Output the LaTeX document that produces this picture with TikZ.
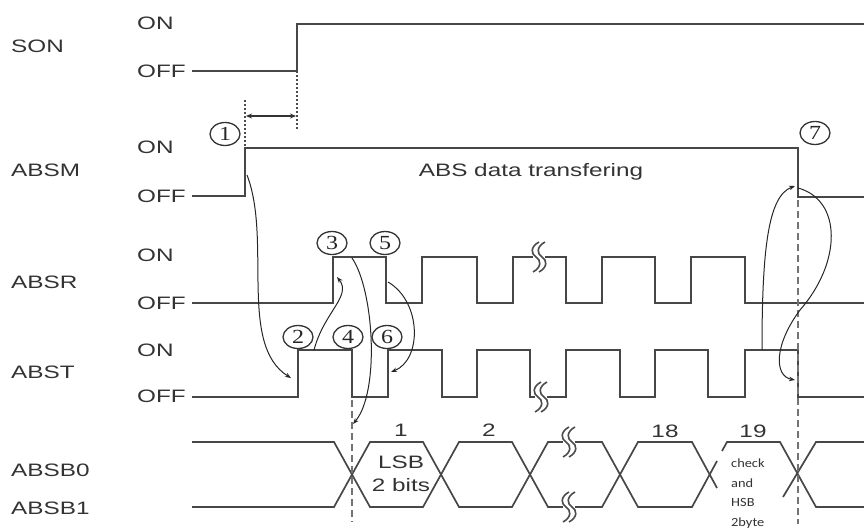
\documentclass[tikz,border=0pt]{standalone}
\usepackage{fontspec}
\setmainfont[FakeStretch=1.35]{Liberation Sans}
\newfontfamily\smallfont[FakeStretch=1.15]{Carlito}
\newfontfamily\circfont[FakeStretch=1.2]{Liberation Serif}
\usetikzlibrary{arrows.meta,shapes.geometric}
\tikzset{
  sig/.style={draw=black!72,line width=1.7pt,line join=miter},
  lbl/.style={anchor=west,text=black!80,font=\fontsize{18}{20}\selectfont,inner sep=0pt},
  ctr/.style={text=black!80,font=\fontsize{18}{20}\selectfont,inner sep=0pt},
  cur/.style={draw=black!85,line width=1pt,-{Stealth[length=6pt,width=4.5pt]}},
  num/.style={ellipse,draw=black!80,line width=1.3pt,minimum width=30pt,minimum height=23pt,inner sep=0pt,text=black!85,font=\circfont\fontsize{20}{20}\selectfont},
  dashv/.style={draw=black!55,line width=2pt,dash pattern=on 7pt off 4pt},
  dotv/.style={draw=black!70,line width=1.4pt,dash pattern=on 2pt off 2pt},
  squig/.pic={
    \fill[white] (-3,-5) rectangle (9,5);
    \draw[black!70,line width=1.6pt] (3,-15) .. controls (-6,-10) and (-5,-3) .. (0,0) .. controls (5,3) and (6,10) .. (-3,15);
    \draw[black!70,line width=1.6pt] (9,-15) .. controls (0,-10) and (1,-3) .. (6,0) .. controls (11,3) and (12,10) .. (3,15);
  }
}
\begin{document}
\begin{tikzpicture}[x=1pt,y=-1pt]
\useasboundingbox (0,0) rectangle (864,532);

% signal names
\node[lbl] (son) at (11,46) {SON};
\node[lbl] (absm) at (11,170) {ABSM};
\node[lbl] (absr) at (11,282) {ABSR};
\node[lbl] (abst) at (11,372) {ABST};
\node[lbl] (absb0) at (11,470) {ABSB0};
\node[lbl] (absb1) at (11,508) {ABSB1};

% ON / OFF
\node[lbl] (on1) at (137,23) {ON};
\node[lbl] (off1) at (137,71) {OFF};
\node[lbl] (on2) at (137,147) {ON};
\node[lbl] (off2) at (137,196) {OFF};
\node[lbl] (on3) at (137,255) {ON};
\node[lbl] (off3) at (137,303) {OFF};
\node[lbl] (on4) at (137,350) {ON};
\node[lbl] (off4) at (137,396) {OFF};

% SON
\draw[sig] (192,71) -- (297,71) -- (297,24) -- (864,24);
% ABSM
\draw[sig] (192,196) -- (245,196) -- (245,148) -- (798,148) -- (798,197) -- (864,197);
% ABSR
\draw[sig] (192,303) -- (333,303) -- (333,257) -- (386,257) -- (386,303) -- (422,303) -- (422,257) -- (477,257) -- (477,303) -- (513,303) -- (513,257) -- (566,257) -- (566,303) -- (602,303) -- (602,257) -- (655,257) -- (655,303) -- (691,303) -- (691,257) -- (745,257) -- (745,303) -- (864,303);
% ABST
\draw[sig] (192,397) -- (298,397) -- (298,350) -- (352,350) -- (352,397) -- (388,397) -- (388,350) -- (442,350) -- (442,397) -- (477,397) -- (477,350) -- (530,350) -- (530,397) -- (566,397) -- (566,350) -- (620,350) -- (620,397) -- (655,397) -- (655,350) -- (708,350) -- (708,397) -- (745,397) -- (745,350) -- (798,350) -- (798,397) -- (864,397);

% data bus
\draw[sig] (192,442) -- (334,442) -- (370,507) -- (423,507) -- (459,442) -- (512,442) -- (548,507) -- (602,507) -- (638,442) -- (692,442) -- (717,488);
\draw[sig] (192,507) -- (334,507) -- (370,442) -- (423,442) -- (459,507) -- (512,507) -- (548,442) -- (602,442) -- (638,507) -- (692,507) -- (717,461);
\draw[sig] (722,451) -- (727,442) -- (780,442) -- (816,507) -- (864,507);
\draw[sig] (783,497) -- (816,442) -- (864,442);

% squiggles
\pic at (536,257) {squig};
\pic at (538,397) {squig};
\pic at (566,442) {squig};
\pic at (566,507) {squig};

% dotted / dashed verticals
\draw[dotv] (297,71) -- (297,130);
\draw[dotv] (245,100) -- (245,148);
\draw[draw=black!80,line width=1.4pt,{Stealth[length=6pt,width=5pt]}-{Stealth[length=6pt,width=5pt]}] (246,116) -- (296,116);
\draw[dashv] (352,400) -- (352,522);
\draw[dashv] (798,200) -- (798,524);

% bus labels
\node[ctr] (b1) at (401,430) {1};
\node[ctr] (b2) at (489,430) {2};
\node[ctr] (b18) at (665,431) {18};
\node[ctr] (b19) at (753,431) {19};
\node[ctr,align=center,font=\fontsize{18}{23}\selectfont] (lsb) at (401,474) {LSB\\2 bits};
\node[anchor=north west,inner sep=0pt,align=left,text=black!80,font=\smallfont\fontsize{12.5}{19.5}\selectfont] (chk) at (731,459) {check\\and\\HSB\\2byte};

% title
\node[ctr] (title) at (531,172) {ABS data transfering};

% circled numbers
\node[num] (n1) at (225,134) {1};
\node[num] (n2) at (298,337) {2};
\node[num] (n3) at (332,243) {3};
\node[num] (n4) at (348,337) {4};
\node[num] (n5) at (385,243) {5};
\node[num] (n6) at (387,337) {6};
\node[num] (n7) at (815,133) {7};

% connectors
\coordinate (a1s) at (247,175);
\coordinate (a1e) at (291,378);
\coordinate (a2s) at (314,350);
\coordinate (a2e) at (337,277);
\coordinate (a3s) at (352,258);
\coordinate (a3e) at (353,424);
\coordinate (a4s) at (388,282);
\coordinate (a4e) at (391,372);
\coordinate (a5s) at (762,350);
\coordinate (a5e) at (795,186);
\coordinate (a6s) at (798,188);
\coordinate (a6m) at (800,310);
\coordinate (a6e) at (795,380);

\draw[cur] (a1s) .. controls (272,240) and (238,345) .. (a1e);
\draw[cur] (a2s) .. controls (324,312) and (352,296) .. (a2e);
\draw[cur] (a3s) .. controls (374,290) and (380,392) .. (a3e);
\draw[cur] (a4s) .. controls (422,302) and (422,360) .. (a4e);
\draw[cur] (a5s) .. controls (762,250) and (768,196) .. (a5e);
\draw[cur] (a6s) .. controls (842,200) and (842,262) .. (a6m) .. controls (774,345) and (774,376) .. (a6e);
\end{tikzpicture}
\end{document}
